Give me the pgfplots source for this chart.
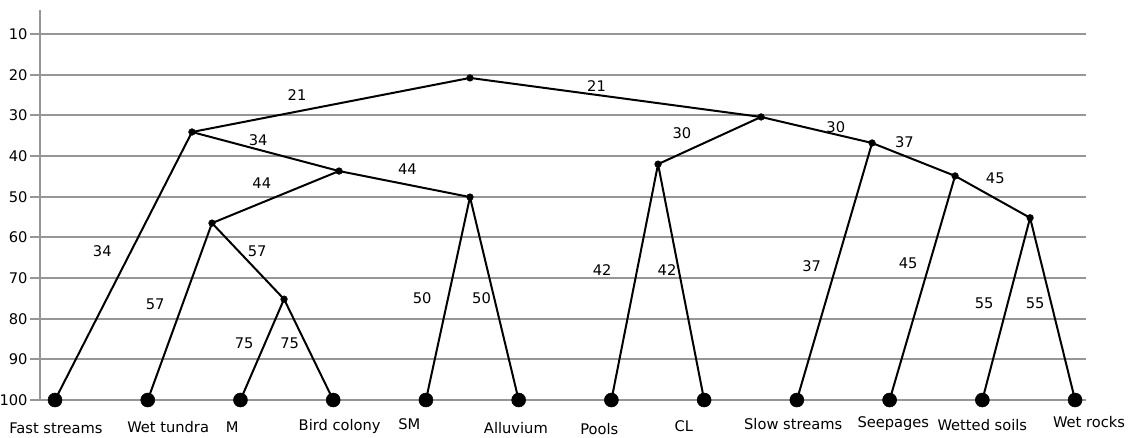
\documentclass[border=0pt]{standalone}
\usepackage{fontspec}
\setmainfont{DejaVu Sans}
\usepackage{pgfplots}
\pgfplotsset{compat=1.18}
\definecolor{gridgray}{RGB}{150,150,150}
\newcommand{\lf}{\fontsize{11}{13}\selectfont}
\begin{document}
\lf
\begin{tikzpicture}
\begin{axis}[
  scale only axis, width=784.5pt, height=292.5pt,
  at={(0,0)}, anchor=south west,
  xmin=-0.1618, xmax=11.118, ymin=4.1, ymax=100, y dir=reverse,
  axis x line=none, axis y line=left,
  axis line style={draw=gridgray, line width=1.5pt, -},
  ytick={10,20,...,100},
  ymajorgrids, grid style={draw=gridgray, line width=1.5pt},
  ytick align=outside, major tick length=7.5pt,
  ytick style={draw=gridgray, line width=1.5pt},
  yticklabel style={font=\lf, xshift=2pt},
  /pgf/number format/assume math mode=true,
  clip=false,
]
% edges
\addplot[black, line width=1.5pt, line join=round, mark=none] coordinates {(0,100) (1.477,34.1) (4.475,20.8) (7.614,30.4) (8.811,36.8) (9.706,44.9) (10.515,55.2) (11,100)};
\addplot[black, line width=1.5pt, line join=round, mark=none] coordinates {(1.477,34.1) (3.063,43.7) (4.475,50.1) (5,100)};
\addplot[black, line width=1.5pt, line join=round, mark=none] coordinates {(3.063,43.7) (1.693,56.5) (2.470,75.2) (3,100)};
\addplot[black, line width=1.5pt, mark=none] coordinates {(1.693,56.5) (1,100)};
\addplot[black, line width=1.5pt, mark=none] coordinates {(2.470,75.2) (2,100)};
\addplot[black, line width=1.5pt, mark=none] coordinates {(4.475,50.1) (4,100)};
\addplot[black, line width=1.5pt, line join=round, mark=none] coordinates {(7.614,30.4) (6.503,42.0) (7,100)};
\addplot[black, line width=1.5pt, mark=none] coordinates {(6.503,42.0) (6,100)};
\addplot[black, line width=1.5pt, mark=none] coordinates {(8.811,36.8) (8,100)};
\addplot[black, line width=1.5pt, mark=none] coordinates {(9.706,44.9) (9,100)};
\addplot[black, line width=1.5pt, mark=none] coordinates {(10.515,55.2) (10,100)};
% internal nodes
\addplot[only marks, mark=*, mark size=2.5pt, black] coordinates {(4.475,20.8) (1.477,34.1) (3.063,43.7) (1.693,56.5) (2.470,75.2) (4.475,50.1) (7.614,30.4) (6.503,42.0) (8.811,36.8) (9.706,44.9) (10.515,55.2)};
% leaves
\addplot[only marks, mark=*, mark size=5.25pt, black] coordinates {(0,100) (1,100) (2,100) (3,100) (4,100) (5,100) (6,100) (7,100) (8,100) (9,100) (10,100) (11,100)};
% edge labels
\addplot[draw=none, mark=none, nodes near coords, point meta=explicit symbolic,
  nodes near coords style={anchor=center, font=\lf, inner sep=0pt}] table[meta=lab] {
x y lab
2.61 25.0 21
5.84 22.8 21
2.19 36.1 34
0.51 63.4 34
2.23 46.6 44
3.80 43.2 44
2.18 63.4 57
1.08 76.4 57
2.04 86.0 75
2.53 86.0 75
3.96 74.9 50
4.60 74.9 50
6.76 34.3 30
8.42 32.9 30
9.16 36.6 37
8.16 67.0 37
5.90 68.0 42
6.60 68.0 42
10.14 45.4 45
9.20 66.3 45
10.02 76.1 55
10.57 76.1 55
};
% leaf labels
\addplot[draw=none, mark=none, nodes near coords, point meta=explicit symbolic,
  nodes near coords style={anchor=center, font=\lf, inner sep=0pt}] table[meta=lab] {
x y lab
0.01 106.9 {Fast streams}
1.22 106.6 {Wet tundra}
1.91 106.6 M
3.07 106.6 {Bird colony}
3.82 105.9 SM
4.97 106.9 Alluvium
5.87 107.1 Pools
6.78 106.4 CL
7.96 105.9 {Slow streams}
9.04 105.9 Seepages
10.0 106.1 {Wetted soils}
11.15 105.4 {Wet rocks}
};
\end{axis}
\pgfresetboundingbox
\useasboundingbox (-30pt,-27.75pt) rectangle (825.75pt,300pt);
\end{tikzpicture}
\end{document}
